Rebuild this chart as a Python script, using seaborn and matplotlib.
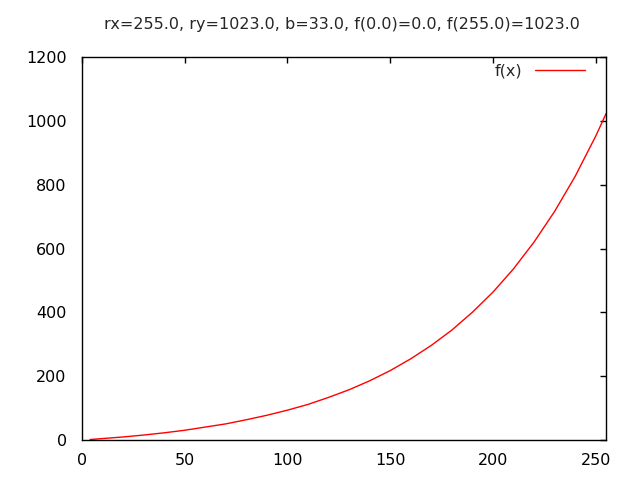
import matplotlib
matplotlib.use('Agg')
import matplotlib.pyplot as plt
import seaborn as sns
import pandas as pd

# values
x_vals = [4, 10, 20, 30, 40, 50, 60, 70, 80, 90, 100, 110, 120, 130, 140,
          150, 160, 170, 180, 190, 200, 210, 220, 230, 240, 250, 255]
y_vals = [2, 5, 10, 16, 23, 31, 41, 51, 64, 78, 94, 112, 134, 158, 186,
          218, 255, 297, 345, 401, 464, 537, 621, 717, 827, 953, 1023]
title = 'rx=255.0, ry=1023.0, b=33.0, f(0.0)=0.0, f(255.0)=1023.0'

df = pd.DataFrame({'x': x_vals, 'f(x)': y_vals})

sns.set_style('white')
plt.rcParams['font.family'] = ['DejaVu Sans']

fig = plt.figure(figsize=(6.4, 4.8), dpi=100)
ax = fig.add_axes([0.128, 0.083, 0.819, 0.798])
sns.lineplot(data=df, x='x', y='f(x)', color='red', linewidth=1, label='f(x)', ax=ax)

ax.set_xlim(0, 255)
ax.set_ylim(0, 1200)
ax.set_xticks([0, 50, 100, 150, 200, 250])
ax.set_yticks([0, 200, 400, 600, 800, 1000, 1200])
ax.set_xlabel('')
ax.set_ylabel('')
ax.tick_params(direction='in', length=4, width=1, top=True, right=True,
               labelsize=11.5, colors='black')
ax.tick_params(axis='y', pad=11)
ax.tick_params(axis='x', pad=9)
for s in ax.spines.values():
    s.set_color('black')
    s.set_linewidth(1)

fig.text(0.535, 0.948, title, ha='center', va='center', fontsize=11.5)

leg = ax.legend(loc='upper right', frameon=False, markerfirst=False,
                handlelength=3.1, fontsize=11.5, borderaxespad=0.2,
                handletextpad=0.8, bbox_to_anchor=(0.978, 1.008))

fig.savefig('out.png', dpi=100)
